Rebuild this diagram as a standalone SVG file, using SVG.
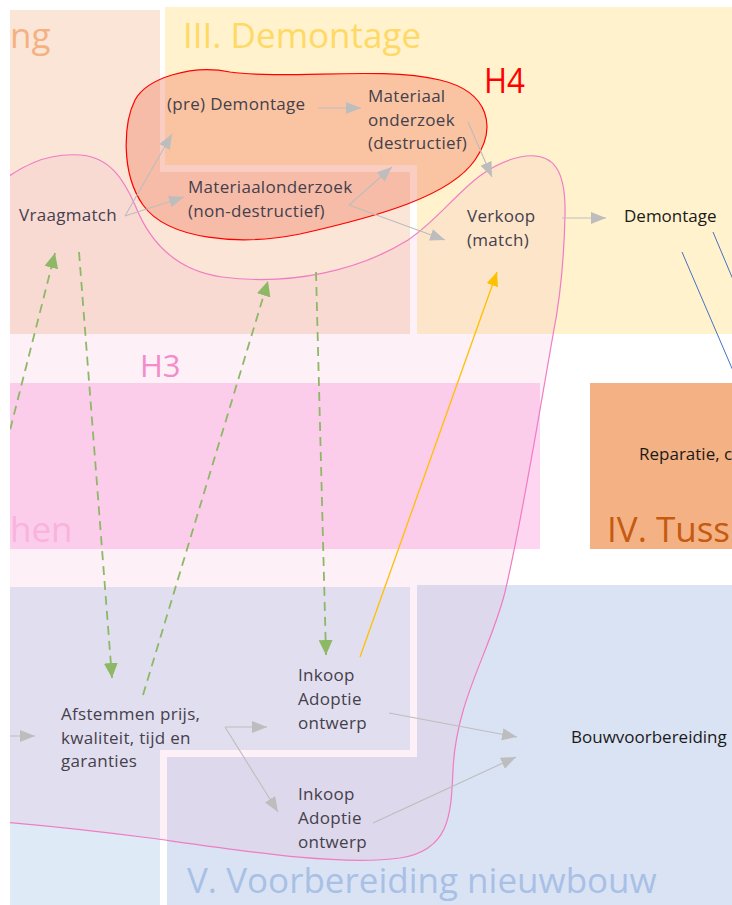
<svg xmlns="http://www.w3.org/2000/svg" width="732" height="905" viewBox="0 0 732 905">
<style>
  .nd { font-family: "Open Sans", "Liberation Sans", sans-serif; font-size: 17px; fill: #45404C; letter-spacing: 0.3px; }
  .nb { font-family: "Open Sans", "Liberation Sans", sans-serif; font-size: 17px; fill: #1A1A1A; }
  .ttl { font-family: "Open Sans", "Liberation Sans", sans-serif; font-size: 35px; }
  .gc { stroke: #BDBDBD; stroke-width: 1.1; fill: none; }
  .gd { stroke: #8DB866; stroke-width: 1.8; fill: none; stroke-dasharray: 9 6; }
  .oc { stroke: #FFC000; stroke-width: 1.3; fill: none; }
  .bl { stroke: #4472C4; stroke-width: 1; fill: none; }
</style>
<defs>
  <clipPath id="clip"><rect x="10" y="0" width="722" height="905"/></clipPath>
  <marker id="ag" markerUnits="userSpaceOnUse" markerWidth="15" markerHeight="12" refX="15" refY="6" orient="auto"><path d="M0,0 L15,6 L0,12 z" fill="#BDBDBD"/></marker>
  <marker id="agr" markerUnits="userSpaceOnUse" markerWidth="15" markerHeight="14" refX="15" refY="7" orient="auto"><path d="M0,0 L15,7 L0,14 z" fill="#8DB866"/></marker>
  <marker id="ao" markerUnits="userSpaceOnUse" markerWidth="14" markerHeight="12" refX="14" refY="6" orient="auto"><path d="M0,0 L14,6 L0,12 z" fill="#FFC000"/></marker>
</defs>
<rect x="0" y="0" width="732" height="905" fill="#FFFFFF"/>
<g clip-path="url(#clip)">
  <g id="regions">
    <polygon points="10,10 160,10 160,172 410,172 410,334 10,334" fill="#FBE5D6"/>
    <polygon points="165,7 740,7 740,334 417,334 417,165 165,165" fill="#FFF2CC"/>
    <rect x="590" y="383" width="150" height="166" fill="#F4B183"/>
    <polygon points="10,587 410,587 410,750 160,750 160,910 10,910" fill="#DEEBF7"/>
    <polygon points="417,585 740,585 740,910 167,910 167,757 417,757" fill="#DAE3F3"/>
    <rect x="0" y="383" width="540" height="166" fill="#FED6F2"/>
  </g>
  <g id="section-titles">
    <text class="ttl" x="10" y="48" fill="#F4B183">ng</text>
    <text class="ttl" x="183" y="48" fill="#FFD966">III. Demontage</text>
    <text class="ttl" x="10" y="542" fill="#F9B9E2">hen</text>
    <text class="ttl" x="607" y="542" fill="#C55A11">IV. Tuss</text>
    <text class="ttl" x="187" y="893" fill="#A9C0E6">V. Voorbereiding nieuwbouw</text>
  </g>
  <g id="H3">
    <path d="M -20,200 C 20,162 50,153 80,155 C 110,157 124,180 135,205 C 148,238 172,270 222,277 C 292,286 360,270 408,240 C 450,212 470,168 520,157 C 555,150 566,172 565,215 C 564,260 560,300 553,335 C 538,420 522,520 505,592 C 490,652 456,700 453,770 C 451,815 450,850 400,858 C 340,866 250,852 150,838 C 90,830 30,824 -20,820 Z" fill="#F29BC3" fill-opacity="0.15" stroke="#F07CC4" stroke-width="1.2"/>
    <text x="140" y="377" font-family="'Open Sans', 'Liberation Sans', sans-serif" font-size="31" fill="#F48CCB">H3</text>
  </g>
  <g id="H4">
    <path d="M 230,72 C 290,80 380,66 440,80 C 490,92 497,128 475,160 C 450,196 380,216 300,234 C 240,246 168,240 143,205 C 120,172 124,122 135,100 C 147,78 192,64 230,72 Z" fill="#F27054" fill-opacity="0.35" stroke="#FF0000" stroke-width="1.2"/>
    <text x="484" y="93" font-family="'Open Sans', 'Liberation Sans', sans-serif" font-size="34" fill="#FF0000" textLength="41" lengthAdjust="spacingAndGlyphs">H4</text>
  </g>
  <g id="connectors">
    <line class="gc" x1="125" y1="216" x2="172" y2="134" marker-end="url(#ag)"/>
    <line class="gc" x1="125" y1="216" x2="184" y2="197" marker-end="url(#ag)"/>
    <line class="gc" x1="318" y1="108" x2="361" y2="108" marker-end="url(#ag)"/>
    <line class="gc" x1="349" y1="205" x2="392" y2="167" marker-end="url(#ag)"/>
    <line class="gc" x1="349" y1="205" x2="445" y2="240" marker-end="url(#ag)"/>
    <line class="gc" x1="468" y1="122" x2="492" y2="177" marker-end="url(#ag)"/>
    <line class="gc" x1="562" y1="218" x2="606" y2="218" marker-end="url(#ag)"/>
    <line class="gc" x1="0" y1="736" x2="35" y2="736" marker-end="url(#ag)"/>
    <line class="gc" x1="225" y1="727" x2="267" y2="727" marker-end="url(#ag)"/>
    <line class="gc" x1="225" y1="727" x2="278" y2="812" marker-end="url(#ag)"/>
    <line class="gc" x1="389" y1="713" x2="517" y2="737" marker-end="url(#ag)"/>
    <line class="gc" x1="373" y1="823" x2="516" y2="757" marker-end="url(#ag)"/>
    <line class="gd" x1="-23" y1="560" x2="55" y2="253" marker-end="url(#agr)"/>
    <line class="gd" x1="79" y1="252" x2="112" y2="678" marker-end="url(#agr)"/>
    <line class="gd" x1="143" y1="695" x2="268" y2="281" marker-end="url(#agr)"/>
    <line class="gd" x1="316" y1="272" x2="326" y2="655" marker-end="url(#agr)"/>
    <line class="oc" x1="360" y1="657" x2="497" y2="272" marker-end="url(#ao)"/>
    <line class="bl" x1="682" y1="252" x2="740" y2="387"/>
    <line class="bl" x1="713" y1="232" x2="745" y2="308"/>
  </g>
  <g id="vraagmatch"><text class="nd" x="19" y="221">Vraagmatch</text></g>
  <g id="pre-demontage"><text class="nd" x="167" y="110">(pre) Demontage</text></g>
  <g id="materiaalonderzoek-nd"><text class="nd" x="188" y="193">Materiaalonderzoek</text><text class="nd" x="188" y="217">(non-destructief)</text></g>
  <g id="materiaalonderzoek-d"><text class="nd" x="368" y="102">Materiaal</text><text class="nd" x="368" y="125.5">onderzoek</text><text class="nd" x="368" y="149">(destructief)</text></g>
  <g id="verkoop"><text class="nd" x="467" y="222">Verkoop</text><text class="nd" x="467" y="246">(match)</text></g>
  <g id="demontage"><text class="nb" x="624" y="222">Demontage</text></g>
  <g id="reparatie"><text class="nb" x="639" y="460">Reparatie, c</text></g>
  <g id="afstemmen"><text class="nd" x="61" y="720">Afstemmen prijs,</text><text class="nd" x="61" y="744">kwaliteit, tijd en</text><text class="nd" x="61" y="767">garanties</text></g>
  <g id="inkoop1"><text class="nd" x="298" y="681">Inkoop</text><text class="nd" x="298" y="705">Adoptie</text><text class="nd" x="298" y="729">ontwerp</text></g>
  <g id="inkoop2"><text class="nd" x="298" y="800">Inkoop</text><text class="nd" x="298" y="824">Adoptie</text><text class="nd" x="298" y="848">ontwerp</text></g>
  <g id="bouwvoorbereiding"><text class="nb" x="571" y="743">Bouwvoorbereiding</text></g>
</g>
</svg>
